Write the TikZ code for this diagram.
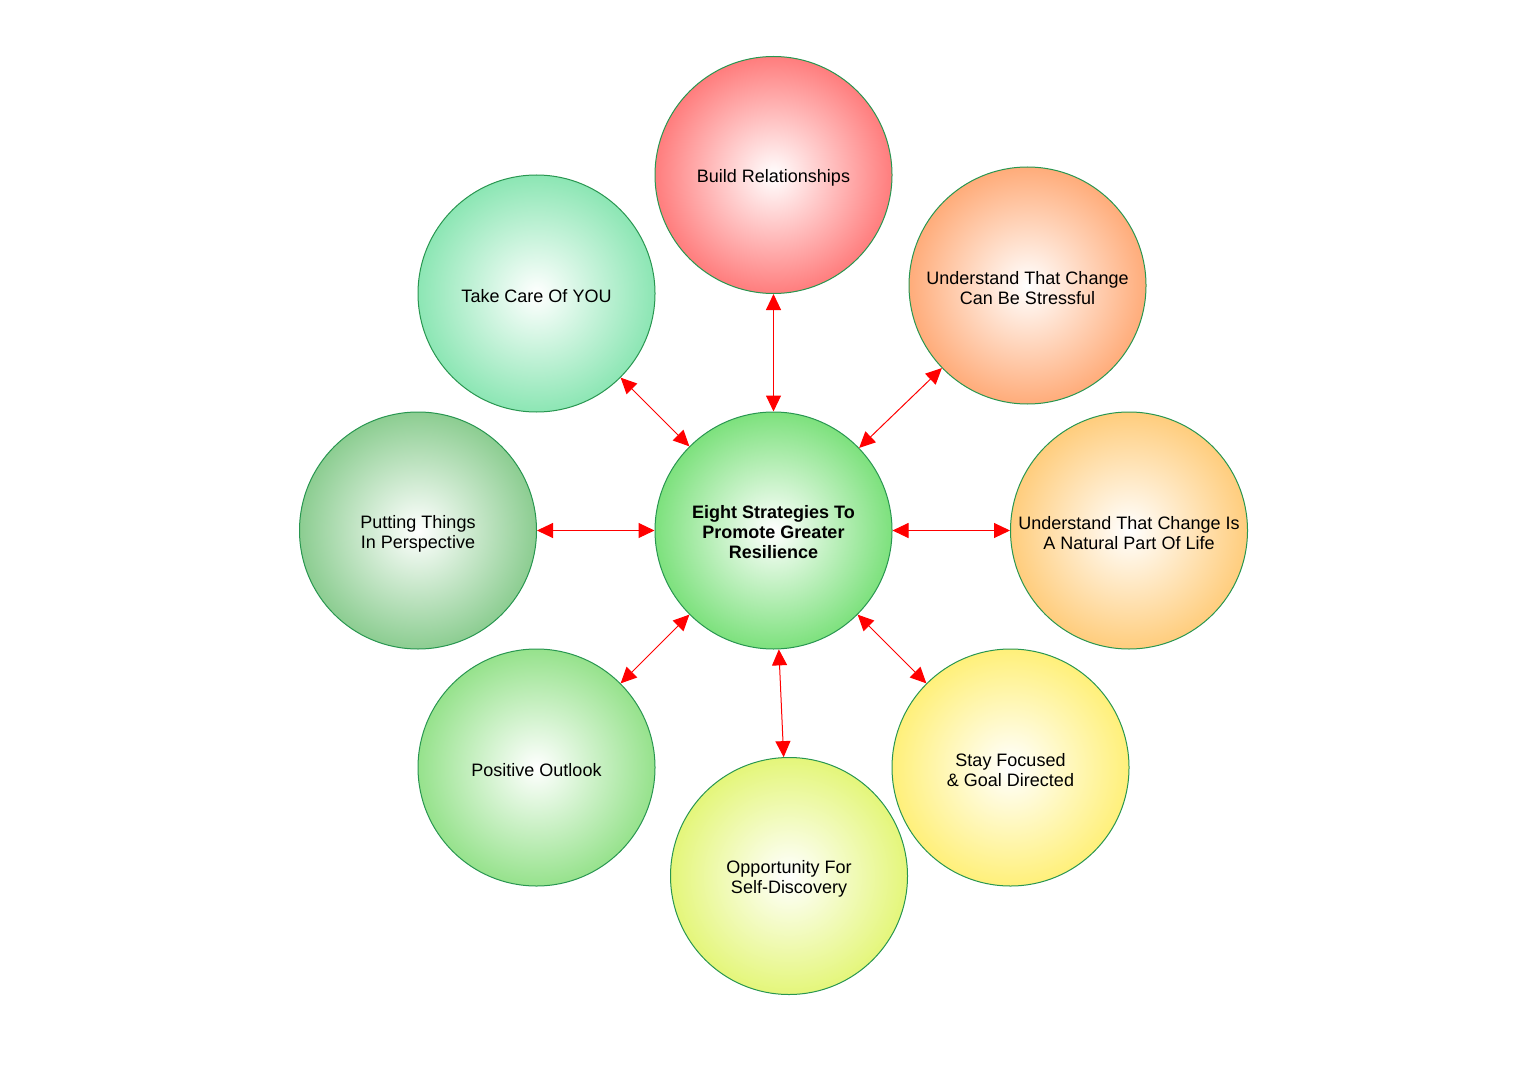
\documentclass[tikz,border=0pt]{standalone}
\usepackage{fontspec}
\setmainfont{Liberation Sans}
\usetikzlibrary{arrows.meta}
\definecolor{cCenter}{RGB}{125,225,125}
\definecolor{cBuild}{RGB}{255,125,125}
\definecolor{cCare}{RGB}{140,230,180}
\definecolor{cStress}{RGB}{255,172,122}
\definecolor{cNatural}{RGB}{255,205,125}
\definecolor{cPutting}{RGB}{140,205,145}
\definecolor{cPositive}{RGB}{150,226,140}
\definecolor{cOpp}{RGB}{228,246,122}
\definecolor{cStay}{RGB}{255,240,122}
\definecolor{cBorder}{RGB}{40,150,80}
\definecolor{cArrow}{RGB}{255,0,0}
\tikzset{
  bubble/.style={circle, draw=cBorder, line width=1pt, minimum size=237pt, inner sep=0pt,
    shading=radial, inner color=white, outer color=#1},
  btext/.style={align=center, font=\fontsize{18}{20}\selectfont, inner sep=0pt, yshift=-3pt},
  link/.style={draw=cArrow, line width=1pt, {Triangle[length=16pt,width=15pt]}-{Triangle[length=16pt,width=15pt]}}
}
\begin{document}
\begin{tikzpicture}[x=1pt,y=-1pt]
\useasboundingbox (0,0) rectangle (1530,1083);
\node[bubble=cCenter, label={[btext, font=\fontsize{18}{20}\selectfont\bfseries, yshift=1.5pt]center:{Eight Strategies To\\Promote Greater\\Resilience}}] (center) at (773.5,530.5) {};
\node[bubble=cBuild, label={[btext]center:{Build Relationships}}] (build) at (773.5,175) {};
\node[bubble=cCare, label={[btext]center:{Take Care Of YOU}}] (care) at (536.5,293.5) {};
\node[bubble=cStress, label={[btext]center:{Understand That Change\\Can Be Stressful}}] (stress) at (1027.5,285.5) {};
\node[bubble=cPutting, label={[btext]center:{Putting Things\\In Perspective}}] (putting) at (418,530.5) {};
\node[bubble=cNatural, label={[btext]center:{Understand That Change Is\\A Natural Part Of Life}}] (natural) at (1129,530.5) {};
\node[bubble=cPositive, label={[btext]center:{Positive Outlook}}] (positive) at (536.5,767.5) {};
\node[bubble=cOpp, label={[btext]center:{Opportunity For\\Self-Discovery}}] (opp) at (789,876) {};
\node[bubble=cStay, label={[btext]center:{Stay Focused\\\& Goal Directed}}] (stay) at (1010.5,767.5) {};
\foreach \t in {build,care,stress,putting,natural,positive,opp,stay}
  \draw[link] (center) -- (\t);
\end{tikzpicture}
\end{document}
